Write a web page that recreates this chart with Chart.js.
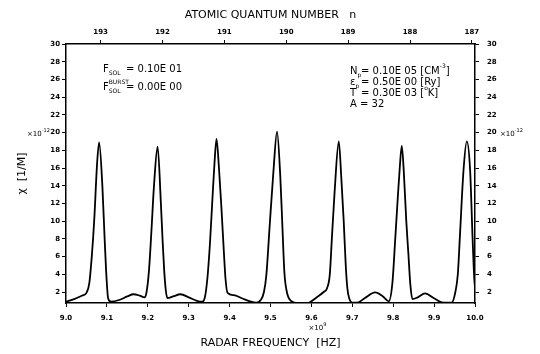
<!DOCTYPE html>
<html>
<head>
<meta charset="utf-8">
<script src="https://cdn.jsdelivr.net/npm/chart.js@4.4.1/dist/chart.umd.min.js"></script>
<style>
  html, body { margin: 0; padding: 0; background: #fff; }
</style>
</head>
<body>
<canvas id="chartCanvas" width="540" height="354"></canvas>
<script>
// radar frequency (x10^9 Hz) and chi (x10^-12 1/m)
const freq = [
  9.000, 9.020, 9.040, 9.050, 9.057, 9.063, 9.069, 9.076, 9.081, 9.089, 9.094, 9.098, 9.103, 9.110,
  9.130, 9.150, 9.165, 9.180, 9.192, 9.197, 9.203, 9.209, 9.215, 9.224, 9.232, 9.236, 9.240, 9.244, 9.248,
  9.262, 9.280, 9.300, 9.320, 9.333, 9.340, 9.346, 9.352, 9.358, 9.363, 9.368, 9.374, 9.380, 9.386, 9.390, 9.395,
  9.410, 9.430, 9.450, 9.465, 9.476, 9.484, 9.490, 9.498, 9.507, 9.516, 9.524, 9.529, 9.534, 9.540, 9.550,
  9.565, 9.590, 9.614, 9.630, 9.638, 9.645, 9.650, 9.657, 9.667, 9.673, 9.679, 9.684, 9.688, 9.693, 9.700,
  9.712, 9.730, 9.756, 9.775, 9.789, 9.798, 9.805, 9.811, 9.816, 9.821, 9.826, 9.832, 9.837, 9.842, 9.847,
  9.860, 9.878, 9.900, 9.923, 9.943, 9.952, 9.958, 9.963, 9.972, 9.980, 9.988, 9.994, 9.998, 10.000
];
const chi = [
  0.9, 1.2, 1.6, 1.9, 3.0, 6.0, 10.1, 16.5, 18.9, 13.9, 8.5, 4.5, 1.3, 0.9,
  1.1, 1.5, 1.75, 1.6, 1.4, 2.0, 4.5, 9.0, 13.9, 18.4, 12.0, 8.0, 4.5, 2.2, 1.3,
  1.5, 1.75, 1.4, 1.0, 0.9, 1.5, 3.7, 7.5, 12.5, 16.5, 19.3, 16.0, 11.5, 6.5, 3.5, 1.9,
  1.65, 1.3, 0.95, 0.8, 1.1, 2.0, 4.0, 9.5, 15.5, 20.1, 15.0, 9.5, 4.2, 2.0, 1.0,
  0.75, 0.75, 1.45, 2.0, 2.4, 4.0, 8.0, 13.5, 19.0, 15.0, 10.0, 5.0, 2.4, 1.2, 0.8,
  0.8, 1.3, 1.95, 1.5, 0.95, 3.0, 8.0, 12.5, 16.0, 18.5, 15.5, 10.0, 6.4, 2.8, 1.2,
  1.4, 1.85, 1.3, 0.8, 0.8, 2.0, 4.0, 8.2, 15.8, 19.0, 15.8, 8.2, 3.7, 2.5
];
const xTicks = [9.0, 9.1, 9.2, 9.3, 9.4, 9.5, 9.6, 9.7, 9.8, 9.9, 10.0];
const yTicks = [2, 4, 6, 8, 10, 12, 14, 16, 18, 20, 22, 24, 26, 28, 30];
const quantumN = [193, 192, 191, 190, 189, 188, 187];

const FONT = "'DejaVu Sans', sans-serif";
const tickFont = { family: FONT, size: 7, weight: 'bold' };

function fixedTicks(list) {
  return function (scale) { scale.ticks = list.map(v => ({ value: v })); };
}

// draws a run of pieces: [text, kind, size, keepX, dy]
function put(ctx, x, y, pieces) {
  for (const p of pieces) {
    const kind = p[1] || 'n';
    const size = p[2] || (kind === 'n' ? 10 : 6);
    ctx.font = size + 'px ' + FONT;
    let dy = 0;
    if (kind === 'sub') dy = 3;
    if (kind === 'sup') dy = -6;
    if (p[4] !== undefined) dy = p[4];
    ctx.fillText(p[0], x, y + dy);
    if (!p[3]) x += ctx.measureText(p[0]).width;
  }
  return x;
}

const textPlugin = {
  id: 'plotText',
  afterDraw(chart) {
    const ctx = chart.ctx;
    const a = chart.chartArea;
    const sx = chart.scales.x, sy = chart.scales.y;
    ctx.save();
    ctx.fillStyle = '#000';
    ctx.textAlign = 'left';
    ctx.textBaseline = 'alphabetic';

    const y20 = sy.getPixelForValue(20) + 3;
    put(ctx, a.left - 39, y20, [['×10', 'n', 7], ['-12', 'sup', 5, false, -4]]);
    put(ctx, a.right + 25, y20, [['×10', 'n', 7], ['-12', 'sup', 5, false, -4]]);
    put(ctx, sx.getPixelForValue(9.6) - 3, a.bottom + 27, [['×10', 'n', 7], ['9', 'sup', 5, false, -4]]);

    // parameter blocks
    const lx = a.left + 37, ly = a.top + 28;
    put(ctx, lx, ly, [['F'], ['SOL', 'sub']]);
    put(ctx, lx + 23, ly, [['= 0.10E 01']]);
    put(ctx, lx, ly + 18, [['F'], ['BURST', 'sup', 6, true], ['SOL', 'sub']]);
    put(ctx, lx + 23, ly + 18, [['= 0.00E 00']]);

    const rx = a.left + 284, ry = a.top + 30;
    put(ctx, rx, ry, [['N'], ['p', 'sub']]);
    put(ctx, rx + 11, ry, [['= 0.10E 05 [CM'], ['-3', 'sup'], [']']]);
    put(ctx, rx, ry + 11, [['ε'], ['p', 'sub']]);
    put(ctx, rx + 11, ry + 11, [['= 0.50E 00 [Ry]']]);
    put(ctx, rx, ry + 22, [['T']]);
    put(ctx, rx + 11, ry + 22, [['= 0.30E 03 ['], ['o', 'sup'], ['K]']]);
    put(ctx, rx, ry + 33, [['A = 32']]);
    ctx.restore();
  }
};

const axisBorder = { color: '#000', width: 1.5 };
const axisGrid = { drawOnChartArea: false, color: '#000', tickLength: 4, lineWidth: 1 };

const ctx = document.getElementById('chartCanvas').getContext('2d');
const chart = new Chart(ctx, {
  type: 'line',
  data: {
    datasets: [{
      data: freq.map((f, i) => ({ x: f, y: chi[i] })),
      borderColor: '#000',
      borderWidth: 1.8,
      pointRadius: 0,
      fill: false,
      cubicInterpolationMode: 'monotone',
      xAxisID: 'x',
      yAxisID: 'y'
    }]
  },
  options: {
    responsive: false,
    animation: false,
    devicePixelRatio: 1,
    layout: { padding: 0 },
    plugins: { legend: { display: false }, tooltip: { enabled: false } },
    scales: {
      x: {
        type: 'linear', position: 'bottom', min: 9.0, max: 10.0,
        afterBuildTicks: fixedTicks(xTicks),
        afterFit: s => { s.height = 51; },
        ticks: { font: tickFont, color: '#000', padding: 7, maxRotation: 0, callback: v => v.toFixed(1) },
        grid: axisGrid, border: axisBorder,
        title: { display: true, text: 'RADAR FREQUENCY  [HZ]', color: '#000', font: { family: FONT, size: 11 }, padding: { bottom: 4 } }
      },
      x2: {
        type: 'linear', position: 'top', reverse: true, min: 186.95, max: 193.56,
        afterBuildTicks: fixedTicks(quantumN),
        afterFit: s => { s.height = 44; },
        ticks: { font: tickFont, color: '#000', padding: 4, maxRotation: 0, callback: v => String(v) },
        grid: axisGrid, border: axisBorder,
        title: { display: true, text: 'ATOMIC QUANTUM NUMBER   n', color: '#000', font: { family: FONT, size: 11 }, padding: { top: 9 } }
      },
      y: {
        type: 'linear', position: 'left', min: 0.76, max: 30,
        afterBuildTicks: fixedTicks(yTicks),
        afterFit: s => { s.width = 66; },
        ticks: { font: tickFont, color: '#000', padding: 2, callback: v => String(v) },
        grid: axisGrid, border: axisBorder,
        title: { display: true, text: 'χ  [1/M]', color: '#000', font: { family: FONT, size: 11 }, padding: { top: 16 } }
      },
      y2: {
        type: 'linear', position: 'right', min: 0.76, max: 30,
        afterBuildTicks: fixedTicks(yTicks),
        afterFit: s => { s.width = 65; },
        ticks: { font: tickFont, color: '#000', padding: 8, callback: v => String(v) },
        grid: axisGrid, border: axisBorder
      }
    }
  },
  plugins: [textPlugin]
});
</script>
</body>
</html>
